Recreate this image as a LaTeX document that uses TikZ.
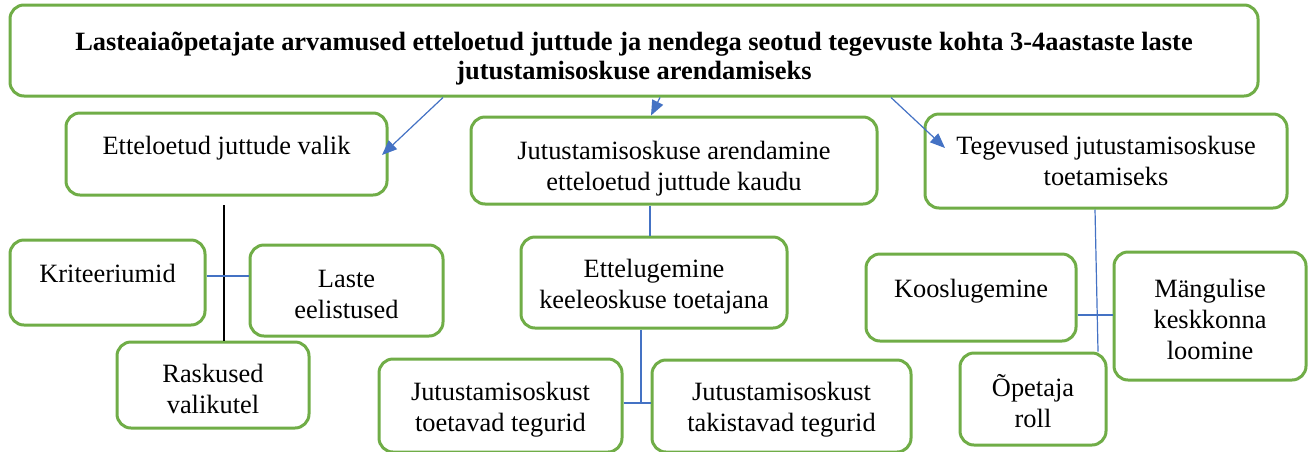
\documentclass[tikz,border=0pt]{standalone}
\usepackage{fontspec}
\setmainfont{Liberation Serif}
\usetikzlibrary{arrows.meta}
\definecolor{boxgreen}{RGB}{112,173,71}
\definecolor{lineblue}{RGB}{68,114,196}
\newcommand{\lift}[1][13pt]{\rule{0pt}{#1}}

\begin{document}
\begin{tikzpicture}[x=0.5pt,y=-0.5pt,
  box/.style={draw=boxgreen, line width=1.5pt, rounded corners=7pt, fill=white,
    align=center, inner sep=0pt, font=\fontsize{13.2}{15.5}\selectfont},
  toptext/.style={text depth=13pt},
  link/.style={draw=lineblue, line width=0.6pt},
  arr/.style={link, -{Triangle[length=7.5pt,width=6pt]}}]
\useasboundingbox (0,0) rectangle (1309,451);

%\path (634,50.5) node {title};
\path (634,50.5) node[box, minimum width=624pt, minimum height=45.5pt,
  font=\bfseries\fontsize{13.2}{14.5}\selectfont] (title)
  {\lift[17.5pt]Lasteaiaõpetajate arvamused etteloetud juttude ja nendega seotud tegevuste kohta 3-4aastaste laste\\jutustamisoskuse arendamiseks};

\path (226.5,154) node[box, toptext, minimum width=160.5pt, minimum height=41pt] (valik) {\lift Etteloetud juttude valik};
\path (674,160.5) node[box, minimum width=203pt, minimum height=43.5pt] (arendamine) {\lift[17.5pt]Jutustamisoskuse arendamine\\etteloetud juttude kaudu};
\path (1106,161) node[box, minimum width=181pt, minimum height=47pt] (tegevused) {Tegevused jutustamisoskuse\\toetamiseks};

\path (107.5,282.5) node[box, toptext, minimum width=97.5pt, minimum height=42.5pt] (kriteeriumid) {\lift Kriteeriumid};
\path (346.5,290.5) node[box, minimum width=96.5pt, minimum height=45.5pt] (eelistused) {\lift Laste\\eelistused};
\path (213,385) node[box, minimum width=96pt, minimum height=43pt] (raskused) {\lift Raskused\\valikutel};

\path (654,282.5) node[box, minimum width=133pt, minimum height=45.5pt] (ettelugemine) {\lift Ettelugemine\\keeleoskuse toetajana};
\path (500.5,405.5) node[box, minimum width=121.5pt, minimum height=46.5pt] (toetavad) {\lift Jutustamisoskust\\toetavad tegurid};
\path (781.5,406) node[box, minimum width=129.5pt, minimum height=46pt] (takistavad) {\lift Jutustamisoskust\\takistavad tegurid};

\path (971,297.5) node[box, toptext, minimum width=105pt, minimum height=43.5pt] (kooslugemine) {\lift Kooslugemine};
\path (1210,316) node[box, minimum width=96pt, minimum height=64pt] (mangulise) {\lift Mängulise\\keskkonna\\loomine};
\path (1033,399) node[box, minimum width=73pt, minimum height=46pt] (opetaja) {\lift Õpetaja\\roll};

\coordinate (tip1) at (382,155);
\coordinate (tip3) at (945,148);
\coordinate (v1) at (224,205);

\draw[arr] (title.south -| 443,0) -- (tip1);
\draw[arr] (title.south -| 660,0) -- (arendamine.north -| 651,0);
\draw[arr] (title.south -| 891,0) -- (tip3);

\draw[black, line width=0.7pt] (v1) -- (raskused.north -| v1);
\draw[link] (kriteeriumid.east |- 0,276) -- (eelistused.west |- 0,276);

\draw[link] (arendamine.south -| 650,0) -- (ettelugemine.north -| 650,0);
\draw[link] (ettelugemine.south -| 641,0) -- (641,403);
\draw[link] (toetavad.east |- 0,403) -- (takistavad.west |- 0,403);

\draw[link] (tegevused.south -| 1095,0) -- (opetaja.north -| 1098,0);
\draw[link] (kooslugemine.east |- 0,315) -- (mangulise.west |- 0,315);
\end{tikzpicture}
\end{document}
